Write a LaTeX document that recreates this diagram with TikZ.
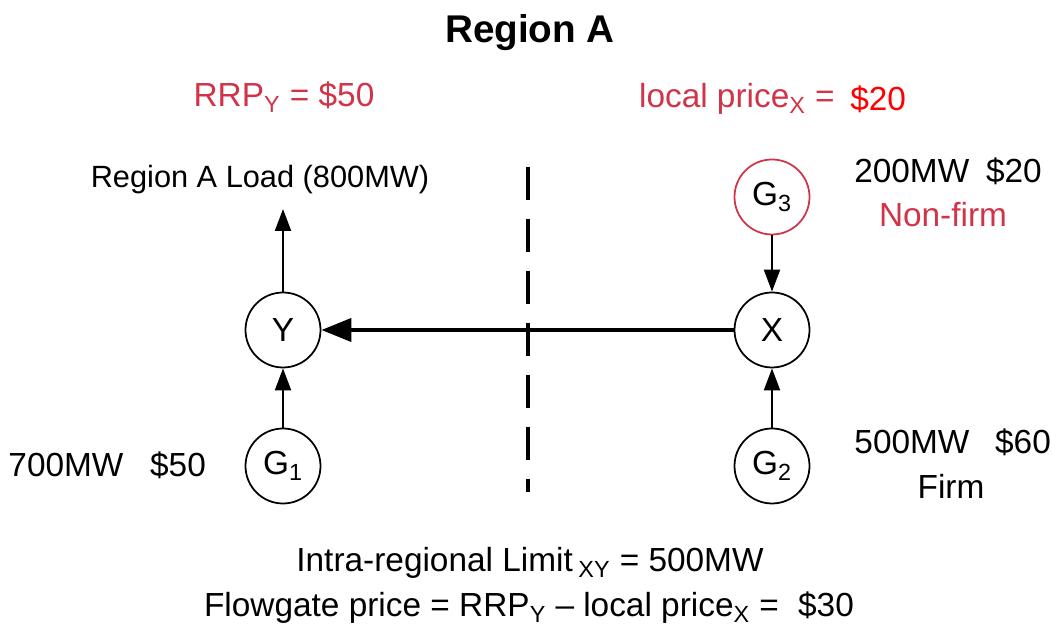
\documentclass[tikz,border=0pt]{standalone}
\usepackage{fontspec}
\setmainfont{Liberation Sans}
\usetikzlibrary{arrows.meta}
\definecolor{pricered}{RGB}{208,52,72}
\tikzstyle{bus} = [circle, minimum size=1.5cm, inner sep=0pt, draw=black, line width=1pt, font=\fontsize{19}{22}\selectfont]
\tikzstyle{txt} = [inner sep=0pt, font=\fontsize{19}{22}\selectfont]
\tikzstyle{redtxt} = [txt, text=pricered]
\tikzstyle{flow} = [line width=1.2pt, -{Triangle[length=0.44cm,width=0.32cm]}]
\tikzstyle{tieflow} = [line width=2.3pt, -{Triangle[length=0.6cm,width=0.46cm]}]
\tikzstyle{boundary} = [line width=2pt, dash pattern=on 0.66cm off 0.38cm]

\begin{document}
\begin{tikzpicture}[node distance=2.72cm]
    \useasboundingbox (0,0) rectangle (21.04,12.62);
    % Nodes
    \node (title) [txt, font=\fontsize{22}{26}\selectfont\bfseries] at (10.6,11.96) {Region A};
    \node (rrp) [redtxt] at (5.68,10.68) {RRP\textsubscript{Y} = \$50};
    \node (lpx) [redtxt, anchor=east] at (16.7,10.64) {local price\textsubscript{X} =};
    \node (lp20) [txt, text=red, anchor=west] at (17.0,10.64) {\$20};
    \node (load) [txt, font=\fontsize{17.5}{21}\selectfont] at (5.2,9.02) {Region A Load (800MW)};
    \node (Y) [bus] at (5.66,6.02) {Y};
    \node (X) [bus] at (15.44,6.02) {X};
    \node (G1) [bus, below of=Y] {G\textsubscript{1}};
    \node (G2) [bus, below of=X] {G\textsubscript{2}};
    \node (G3) [bus, draw=pricered, above of=X, yshift=-0.06cm] {G\textsubscript{3}};
    \node (mw200) [txt] at (18.96,9.2) {200MW\hspace{0.5em}\$20};
    \node (nonfirm) [redtxt] at (18.86,8.32) {Non-firm};
    \node (mw700) [txt] at (1.32,3.32) {700MW};
    \node (p50) [txt] at (3.56,3.32) {\$50};
    \node (mw500) [txt] at (18.24,3.78) {500MW};
    \node (p60) [txt] at (20.46,3.78) {\$60};
    \node (firm) [txt] at (19.02,2.9) {Firm};
    \node (limit) [txt] at (10.6,1.36) {Intra-regional Limit\,\textsubscript{XY} = 500MW};
    \node (fgprice) [txt] at (10.58,0.46) {Flowgate price = RRP\textsubscript{Y} -- local price\textsubscript{X} =\hspace{0.3em} \$30};
    \coordinate (loadtip) at (5.66,8.44);
    \coordinate (divtop) at (10.56,9.28);
    \coordinate (divbot) at (10.56,2.78);

    % Arrows
    \draw [boundary] (divtop) -- (divbot);
    \draw [flow] (Y.north) -- (loadtip);
    \draw [flow] (G1) -- (Y);
    \draw [flow] (G2) -- (X);
    \draw [flow] (G3) -- (X);
    \draw [tieflow] (X) -- (Y);
\end{tikzpicture}
\end{document}
